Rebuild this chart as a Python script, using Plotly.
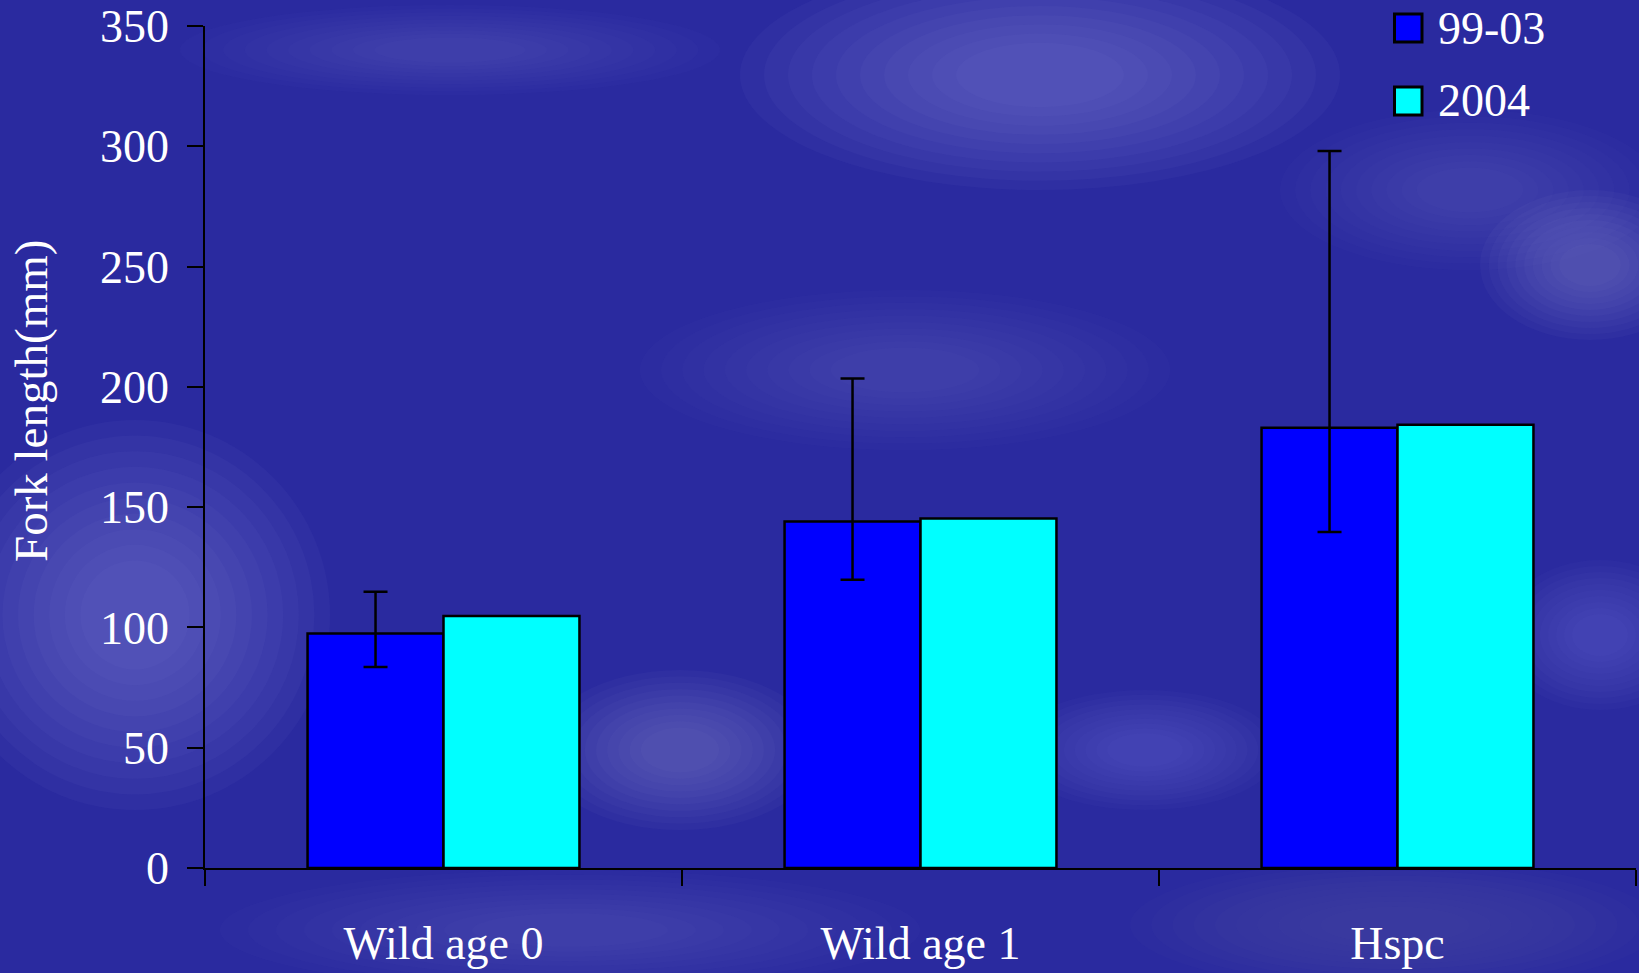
import plotly.graph_objects as go

categories = ["Wild age 0", "Wild age 1", "Hspc"]
series_names = ["99-03", "2004"]
values_9903 = [97.5, 144.0, 183.0]
values_2004 = [104.8, 145.3, 184.3]
err_plus_9903 = [17.3, 59.5, 115.0]
err_minus_9903 = [13.9, 24.2, 43.3]
y_ticks = [0, 50, 100, 150, 200, 250, 300, 350]

colors = ["#0000FF", "#00FFFF"]
font_family = "Liberation Serif, Times New Roman, serif"

W, H = 1639, 973
PL, PR, PT, PB = 205, 1636, 26, 868  # plot area in pixels


def px(x):
    return (x - PL) / (PR - PL)


def py(y):
    return (PB - y) / (PB - PT)


fig = go.Figure()
fig.add_trace(go.Bar(
    x=categories, y=values_9903, name=series_names[0],
    marker=dict(color=colors[0], line=dict(color="black", width=2.5)),
    error_y=dict(type="data", array=err_plus_9903, arrayminus=err_minus_9903,
                 symmetric=False, color="black", thickness=2.5, width=12),
    showlegend=False,
))
fig.add_trace(go.Bar(
    x=categories, y=values_2004, name=series_names[1],
    marker=dict(color=colors[1], line=dict(color="black", width=2.5)),
    showlegend=False,
))

# soft lighter "cloud" areas of the background texture (decoration only)
clouds = [
    (740, -40, 1340, 190, 0.45),
    (180, 5, 720, 95, 0.25),
    (-60, 420, 330, 810, 0.45),
    (540, 670, 820, 830, 0.35),
    (1010, 690, 1280, 810, 0.30),
    (1480, 190, 1700, 340, 0.35),
    (1500, 560, 1700, 710, 0.30),
    (640, 290, 1170, 450, 0.22),
    (1280, 110, 1660, 270, 0.22),
    (220, 870, 920, 990, 0.20),
    (1130, 860, 1660, 990, 0.15),
]
n_layers = 10
for x0, y0, x1, y1, op in clouds:
    cx, cy = (x0 + x1) / 2, (y0 + y1) / 2
    hw, hh = (x1 - x0) / 2, (y1 - y0) / 2
    for k in range(n_layers):
        s = 1.0 - 0.08 * k
        fig.add_shape(type="circle", xref="paper", yref="paper",
                      x0=px(cx - hw * s), x1=px(cx + hw * s),
                      y0=py(cy + hh * s), y1=py(cy - hh * s),
                      fillcolor="#8c8cdc", opacity=op / n_layers * 1.3,
                      line=dict(width=0), layer="below")

# Manual legend (large square symbols)
legend_y = [28, 101]
for i, (nm, col) in enumerate(zip(series_names, colors)):
    yc = legend_y[i]
    fig.add_shape(type="rect", xref="paper", yref="paper",
                  x0=px(1394.5), x1=px(1422),
                  y0=py(yc + 14), y1=py(yc - 14),
                  fillcolor=col, line=dict(color="black", width=3))
    fig.add_annotation(xref="paper", yref="paper",
                       x=px(1436), y=py(yc),
                       text=nm, showarrow=False, xanchor="left", yanchor="middle",
                       font=dict(family=font_family, size=46, color="white"))

# Y axis title
fig.add_annotation(xref="paper", yref="paper",
                   x=px(31), y=py(401),
                   text="Fork length(mm)", textangle=-90, showarrow=False,
                   xanchor="center", yanchor="middle",
                   font=dict(family=font_family, size=47, color="white"))

fig.update_layout(
    width=W, height=H,
    barmode="group", bargap=0.43, bargroupgap=0.0,
    paper_bgcolor="#2a2a9f", plot_bgcolor="rgba(0,0,0,0)",
    margin=dict(l=PL, r=W - PR, t=PT, b=H - PB, autoexpand=False),
    font=dict(family=font_family, color="white", size=46),
    xaxis=dict(
        showgrid=False, showline=True, linecolor="black", linewidth=1.5,
        ticks="outside", tickson="boundaries", ticklen=16, tickcolor="black",
        tickwidth=1.5, ticklabelstandoff=34, ticklabeloverflow="allow",
        automargin=False,
        tickfont=dict(family=font_family, size=46, color="white"),
    ),
    yaxis=dict(
        range=[0, 350], tickvals=y_ticks, showgrid=False, zeroline=False,
        showline=True, linecolor="black", linewidth=1.5,
        ticks="outside", ticklen=16, tickcolor="black", tickwidth=1.5,
        ticklabelstandoff=9, ticklabeloverflow="allow", automargin=False,
        tickfont=dict(family=font_family, size=46, color="white"),
    ),
)

fig.write_html("out.html", config={"displayModeBar": False},
               post_script="document.body.style.margin='0';document.body.style.overflow='hidden';")
